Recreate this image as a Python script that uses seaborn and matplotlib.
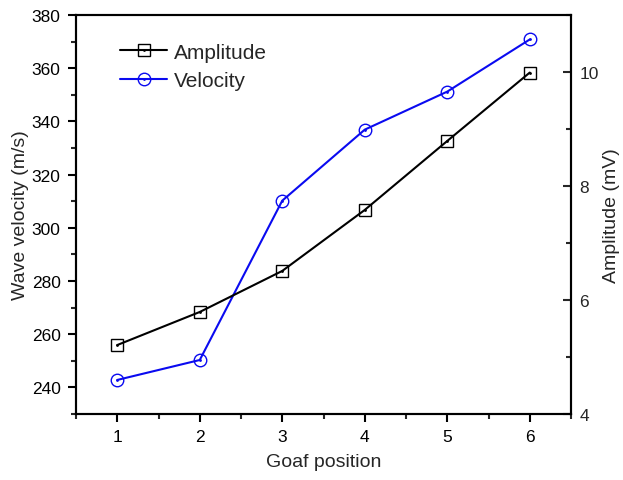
import matplotlib
matplotlib.use("Agg")
import matplotlib.pyplot as plt
import seaborn as sns
import pandas as pd
from matplotlib.ticker import MultipleLocator
from matplotlib.lines import Line2D

positions = [1, 2, 3, 4, 5, 6]
velocity = [242.8, 250.3, 310.2, 336.9, 351.2, 370.8]
amplitude = [5.21, 5.79, 6.51, 7.58, 8.79, 9.99]

sns.set_style("white")
plt.rcParams['font.family'] = ['Liberation Sans', 'DejaVu Sans']

df = pd.DataFrame({"pos": positions, "vel": velocity, "amp": amplitude})
BLUE = "#0a0af0"

fig = plt.figure(figsize=(6.23, 4.81), dpi=100)
ax = fig.add_axes([76/623, 66/481, 495/623, 399/481])
ax2 = ax.twinx()

sns.lineplot(data=df, x="pos", y="amp", ax=ax2, color="black", lw=1.5,
             marker="s", markersize=8, markerfacecolor="none",
             markeredgecolor="black", markeredgewidth=1.0)
sns.lineplot(data=df, x="pos", y="vel", ax=ax, color=BLUE, lw=1.5,
             marker="o", markersize=9, markerfacecolor="none",
             markeredgecolor=BLUE, markeredgewidth=1.0)
ax2.plot(positions, amplitude, ls="none", marker=".", markersize=2, color="black")
ax.plot(positions, velocity, ls="none", marker=".", markersize=2, color=BLUE)

ax.set_xlim(0.5, 6.5)
ax.set_ylim(230, 380)
ax2.set_ylim(4, 11)
ax.set_xticks(positions)
ax.xaxis.set_minor_locator(MultipleLocator(0.5))
ax.yaxis.set_major_locator(MultipleLocator(20))
ax.yaxis.set_minor_locator(MultipleLocator(10))
ax2.yaxis.set_major_locator(MultipleLocator(2))
ax2.yaxis.set_minor_locator(MultipleLocator(1))

for a in (ax, ax2):
    for s in a.spines.values():
        s.set_linewidth(1.5)
        s.set_color("black")
ax.tick_params(axis="both", which="major", direction="out", length=6, width=1.5,
               labelsize=12.5, bottom=True, left=True, colors="black", pad=5)
ax.tick_params(axis="both", which="minor", direction="out", length=3.5, width=1.5,
               bottom=True, left=True)
ax2.tick_params(axis="y", which="major", direction="in", length=6, width=1.5,
                labelsize=12.5, right=True, pad=6)
ax2.tick_params(axis="y", which="minor", direction="in", length=3.5, width=1.5, right=True)

ax.set_xlabel("Goaf position", fontsize=14, labelpad=6)
ax.set_ylabel("Wave velocity (m/s)", fontsize=14)
ax2.set_ylabel("Amplitude (mV)", fontsize=14)
ax.yaxis.set_label_coords(-0.095, 0.5)
ax2.yaxis.set_label_coords(1.064, 0.5)

h1 = (Line2D([], [], color="black", lw=1.5, marker="s", markersize=8,
             markerfacecolor="none", markeredgewidth=1.0),
      Line2D([], [], ls="none", marker=".", markersize=2, color="black"))
h2 = (Line2D([], [], color=BLUE, lw=1.5, marker="o", markersize=9,
             markerfacecolor="none", markeredgewidth=1.0),
      Line2D([], [], ls="none", marker=".", markersize=2, color=BLUE))
if ax2.get_legend():
    ax2.get_legend().remove()
if ax.get_legend():
    ax.get_legend().remove()
ax.legend([h1, h2], ["Amplitude", "Velocity"], loc="upper left",
          bbox_to_anchor=(0.052, 0.978), frameon=False, fontsize=15,
          handlelength=2.25, handletextpad=0.3, labelspacing=0.45)

fig.savefig("out.png", dpi=100)
